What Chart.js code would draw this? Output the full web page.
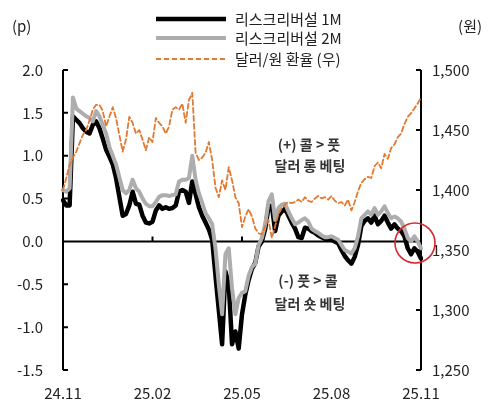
<!DOCTYPE html>
<html>
<head>
<meta charset="utf-8">
<script src="https://cdn.jsdelivr.net/npm/chart.js@4"></script>
<style>
  html, body { margin: 0; padding: 0; background: #fff; }
  #wrap { width: 494px; height: 411px; }
</style>
</head>
<body>
<div id="wrap"><canvas id="chart" width="494" height="411"></canvas></div>
<script>
// tick labels on the x axis (every 3 months)
const quarterLabels = ['24.11', '25.02', '25.05', '25.08', '25.11'];
const stepsPerQuarter = 27;

// risk reversal 1M (p)
const riskReversal1M = [
    0.48, 0.42, 0.42, 1.46, 1.42, 1.38, 1.32, 1.28, 1.26, 1.36,
    1.40, 1.32, 1.20, 1.07, 0.99, 0.90, 0.74, 0.52, 0.30, 0.32,
    0.42, 0.58, 0.44, 0.43, 0.30, 0.22, 0.21, 0.23, 0.36, 0.42,
    0.38, 0.40, 0.38, 0.39, 0.42, 0.58, 0.60, 0.58, 0.45, 0.70,
    0.55, 0.40, 0.30, 0.22, 0.14, 0.02, -0.40, -0.80, -1.20, -0.35,
    -0.50, -1.20, -1.05, -1.25, -0.85, -0.62, -0.45, -0.32, -0.25, -0.06,
    0.00, 0.15, 0.40, 0.42, 0.12, 0.30, 0.35, 0.38, 0.30, 0.22,
    0.15, 0.05, 0.04, 0.16, 0.15, 0.12, 0.10, 0.07, 0.05, 0.03,
    0.03, 0.02, 0.00, -0.02, -0.10, -0.17, -0.22, -0.26, -0.18, -0.04,
    0.18, 0.24, 0.27, 0.22, 0.30, 0.20, 0.24, 0.30, 0.22, 0.15,
    0.20, 0.15, 0.12, 0.06, -0.08, -0.15, -0.08, -0.12, -0.20
];

// risk reversal 2M (p)
const riskReversal2M = [
    0.60, 0.58, 0.62, 1.68, 1.55, 1.52, 1.49, 1.46, 1.44, 1.40,
    1.52, 1.46, 1.36, 1.26, 1.10, 1.00, 0.90, 0.75, 0.60, 0.56,
    0.60, 0.72, 0.62, 0.58, 0.50, 0.44, 0.41, 0.41, 0.46, 0.52,
    0.54, 0.54, 0.53, 0.54, 0.55, 0.70, 0.72, 0.72, 0.74, 1.00,
    0.72, 0.56, 0.45, 0.33, 0.27, 0.20, -0.08, -0.50, -0.85, -0.15,
    -0.08, -0.55, -0.85, -0.66, -0.60, -0.58, -0.40, -0.30, -0.26, -0.04,
    0.04, 0.20, 0.47, 0.55, 0.25, 0.39, 0.43, 0.44, 0.35, 0.27,
    0.20, 0.22, 0.25, 0.27, 0.23, 0.15, 0.12, 0.10, 0.07, 0.05,
    0.05, 0.06, 0.04, 0.02, -0.04, -0.10, -0.12, -0.14, -0.08, 0.06,
    0.27, 0.31, 0.35, 0.31, 0.39, 0.31, 0.35, 0.41, 0.33, 0.27,
    0.29, 0.27, 0.23, 0.15, 0.04, 0.00, 0.06, 0.00, -0.08
];

// USD/KRW (right axis)
const usdKrw = [
    1400, 1410, 1421, 1427, 1432, 1439, 1446, 1450, 1458, 1467,
    1471, 1471, 1466, 1453, 1461, 1469, 1460, 1446, 1432, 1442,
    1461, 1456, 1447, 1450, 1442, 1433, 1444, 1440, 1460, 1456,
    1453, 1447, 1453, 1467, 1469, 1467, 1472, 1456, 1475, 1481,
    1431, 1425, 1427, 1431, 1440, 1425, 1402, 1394, 1408, 1400,
    1419, 1408, 1394, 1389, 1369, 1378, 1384, 1378, 1368, 1364,
    1363, 1370, 1375, 1360, 1370, 1380, 1385, 1388, 1390, 1389,
    1390, 1392, 1390, 1394, 1391, 1390, 1393, 1395, 1393, 1394,
    1392, 1395, 1391, 1389, 1390, 1387, 1392, 1383, 1390, 1399,
    1406, 1409, 1411, 1410, 1420, 1423, 1418, 1430, 1426, 1435,
    1438, 1444, 1447, 1455, 1461, 1464, 1468, 1472, 1477
];

const seriesNames = ['리스크리버설 1M', '리스크리버설 2M', '달러/원 환율 (우)'];

const FONT = '"Noto Sans CJK KR", "Noto Sans", sans-serif';

const labels = riskReversal1M.map((v, i) =>
    i % stepsPerQuarter === 0 ? quarterLabels[i / stepsPerQuarter] : '');

// axes, ticks, legend and notes
const overlay = {
    id: 'overlay',
    beforeDatasetsDraw(chart) {
        const { ctx, chartArea: a, scales } = chart;
        const y0 = scales.y.getPixelForValue(0);
        ctx.save();
        ctx.strokeStyle = '#000';
        ctx.lineWidth = 2;
        ctx.beginPath();
        ctx.moveTo(a.left, a.top); ctx.lineTo(a.left, a.bottom);
        ctx.moveTo(a.right, a.top); ctx.lineTo(a.right, a.bottom);
        ctx.moveTo(a.left, y0); ctx.lineTo(a.right, y0);
        scales.y.ticks.forEach(t => {
            const p = scales.y.getPixelForValue(t.value);
            ctx.moveTo(a.left, p); ctx.lineTo(a.left + 5, p);
        });
        scales.y1.ticks.forEach(t => {
            const p = scales.y1.getPixelForValue(t.value);
            ctx.moveTo(a.right, p); ctx.lineTo(a.right - 5, p);
        });
        labels.forEach((l, i) => {
            if (!l || i === 0 || i === labels.length - 1) return;
            const px = scales.x.getPixelForValue(i);
            ctx.moveTo(px, y0); ctx.lineTo(px, y0 - 5);
        });
        ctx.stroke();
        ctx.restore();
    },
    afterDraw(chart) {
        const { ctx } = chart;
        ctx.save();
        ctx.fillStyle = '#222';
        ctx.textBaseline = 'middle';
        ctx.font = '15px ' + FONT;
        ctx.textAlign = 'left';
        ctx.fillText('(p)', 12, 26);
        ctx.textAlign = 'right';
        ctx.fillText('(원)', 482, 26);

        // legend
        const rows = [19, 38, 59];
        [0, 1, 2].forEach(k => {
            const ds = chart.data.datasets[k];
            ctx.strokeStyle = ds.borderColor;
            ctx.lineWidth = ds.borderWidth;
            ctx.setLineDash(ds.borderDash || []);
            ctx.beginPath();
            ctx.moveTo(156, rows[k]);
            ctx.lineTo(226, rows[k]);
            ctx.stroke();
            ctx.setLineDash([]);
            ctx.textAlign = 'left';
            ctx.fillStyle = '#222';
            ctx.fillText(ds.label, 235, rows[k]);
        });

        // notes
        ctx.font = 'bold 14px ' + FONT;
        ctx.fillStyle = '#333';
        ctx.textAlign = 'center';
        ctx.fillText('(+) 콜 > 풋', 309, 145);
        ctx.fillText('달러 롱 베팅', 310, 166);
        ctx.fillText('(-) 풋 > 콜', 308, 281);
        ctx.fillText('달러 숏 베팅', 310, 304);

        // red circle on the latest values
        ctx.strokeStyle = '#D9262B';
        ctx.lineWidth = 1.6;
        ctx.beginPath();
        ctx.arc(415, 243, 20, 0, Math.PI * 2);
        ctx.stroke();
        ctx.restore();
    }
};

new Chart(document.getElementById('chart').getContext('2d'), {
    type: 'line',
    data: {
        labels: labels,
        datasets: [
            {
                label: seriesNames[0],
                data: riskReversal1M,
                borderColor: '#000000',
                borderWidth: 4.5,
                yAxisID: 'y',
                order: 2
            },
            {
                label: seriesNames[1],
                data: riskReversal2M,
                borderColor: '#ADADAD',
                borderWidth: 4,
                yAxisID: 'y',
                order: 1
            },
            {
                label: seriesNames[2],
                data: usdKrw,
                borderColor: '#E3782F',
                borderWidth: 1.8,
                borderDash: [5, 3],
                yAxisID: 'y1',
                order: 0
            }
        ]
    },
    options: {
        responsive: false,
        animation: false,
        layout: { padding: { top: 70, left: 0, right: 0, bottom: 0 } },
        elements: {
            point: { radius: 0 },
            line: { tension: 0, borderJoinStyle: 'round', borderCapStyle: 'round' }
        },
        scales: {
            x: {
                grid: { display: false, drawTicks: false },
                border: { display: false },
                offset: false,
                ticks: {
                    autoSkip: false,
                    maxRotation: 0,
                    padding: 14,
                    color: '#222',
                    font: { family: FONT, size: 15 }
                },
                afterFit(scale) { scale.height = 41; }
            },
            y: {
                position: 'left',
                min: -1.5,
                max: 2.0,
                grid: { display: false, drawTicks: false },
                border: { display: false },
                ticks: {
                    stepSize: 0.5,
                    padding: 20,
                    color: '#222',
                    font: { family: FONT, size: 15 },
                    callback: v => v.toFixed(1)
                },
                afterFit(scale) { scale.width = 63; }
            },
            y1: {
                position: 'right',
                min: 1250,
                max: 1500,
                grid: { display: false, drawTicks: false },
                border: { display: false },
                ticks: {
                    stepSize: 50,
                    padding: 11,
                    color: '#222',
                    font: { family: FONT, size: 15 },
                    callback: v => v.toLocaleString('en-US')
                },
                afterFit(scale) { scale.width = 73; }
            }
        },
        plugins: {
            legend: { display: false },
            tooltip: { enabled: false }
        }
    },
    plugins: [overlay]
});
</script>
</body>
</html>
